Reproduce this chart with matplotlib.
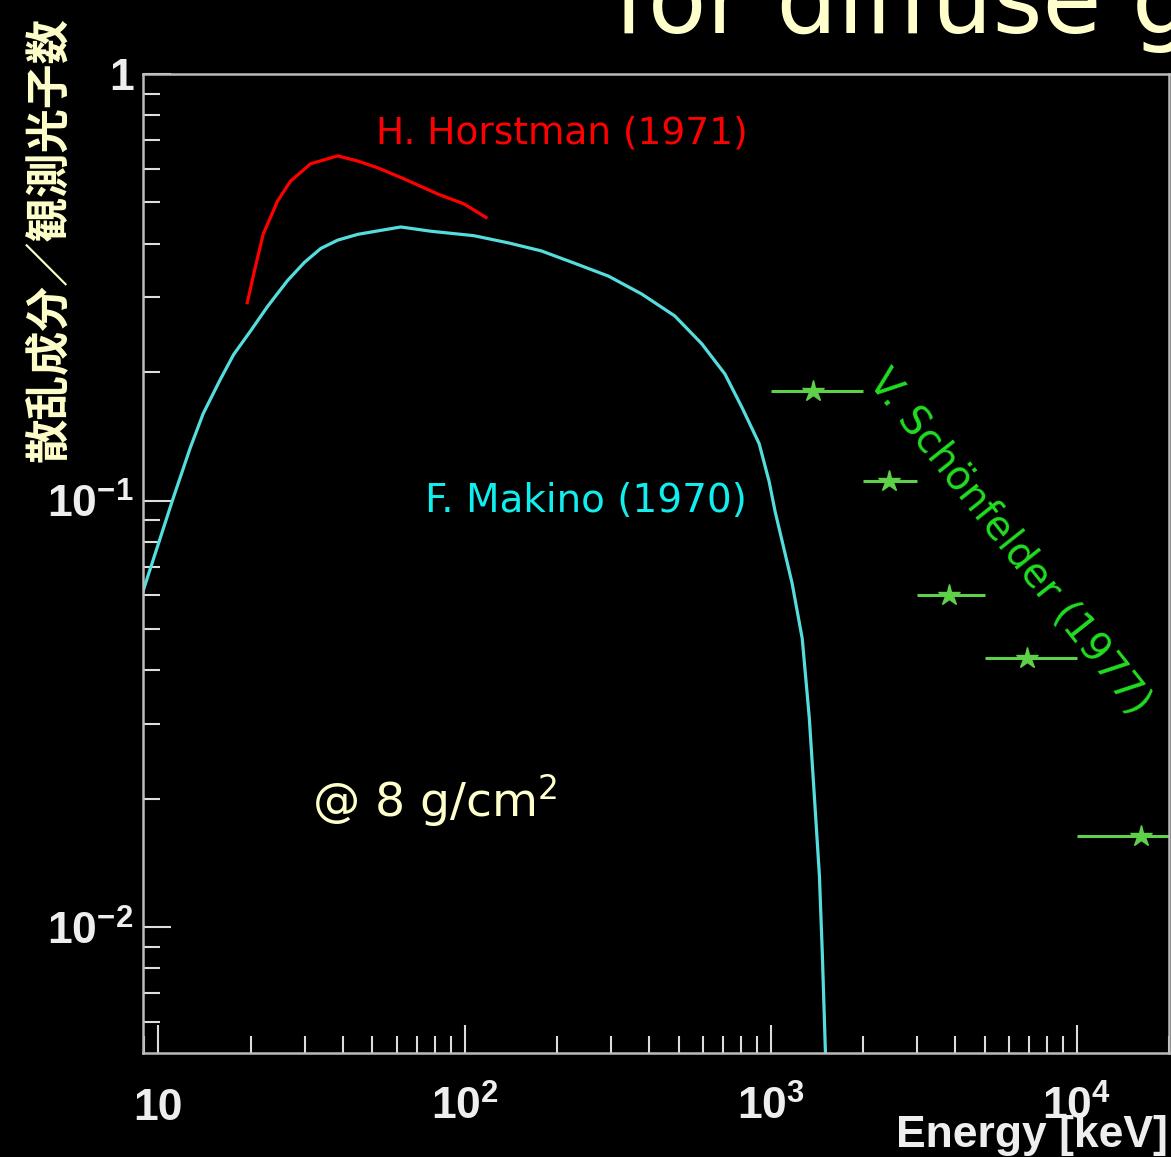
import numpy as np
import matplotlib.pyplot as plt
from matplotlib.ticker import LogLocator, NullFormatter

plt.rcParams['mathtext.fontset'] = 'custom'
plt.rcParams['mathtext.rm'] = 'Liberation Sans:bold'
plt.rcParams['mathtext.bf'] = 'Liberation Sans:bold'
plt.rcParams['mathtext.it'] = 'Liberation Sans:bold'

# F. Makino (1970)
makino_e = [8.5, 9.03, 9.9, 11.1, 12.7, 14.0, 15.9, 17.6, 20.0, 22.7, 26.4, 30.0,
            33.9, 38.5, 44.8, 61.9, 77.7, 107, 139, 178, 229, 295, 379, 486, 596,
            709, 807, 917, 988, 1035, 1175, 1268, 1337, 1389, 1443, 1475, 1510, 1530]
makino_v = [0.055, 0.0633, 0.0776, 0.100, 0.133, 0.160, 0.192, 0.220, 0.250, 0.285,
            0.328, 0.362, 0.390, 0.408, 0.421, 0.438, 0.428, 0.418, 0.402, 0.385,
            0.360, 0.336, 0.305, 0.271, 0.233, 0.198, 0.165, 0.136, 0.111, 0.094,
            0.064, 0.0475, 0.0310, 0.0203, 0.0132, 0.00865, 0.00507, 0.004]

# H. Horstman (1971)
horst_e = [19.5, 20.7, 22.0, 24.5, 27.0, 31.4, 38.5, 44.8, 52.0, 63.4, 81.9, 99.6, 117.5]
horst_v = [0.291, 0.352, 0.422, 0.504, 0.561, 0.616, 0.643, 0.625, 0.603, 0.568,
           0.523, 0.496, 0.461]

# V. Schoenfelder (1977)
sch_e = [1380, 2440, 3830, 6890, 16200]
sch_v = [0.181, 0.111, 0.060, 0.0428, 0.0164]
sch_lo = [1000, 2000, 3000, 5000, 10000]
sch_hi = [2000, 3000, 5000, 10000, 30000]

cream = '#ffffcc'
fig = plt.figure(figsize=(11.71, 11.57), dpi=100, facecolor='black')
ax = fig.add_axes([0.1225, 0.0899, 0.8757, 0.8461], facecolor='black')

ax.plot(makino_e, makino_v, color='#55dddd', lw=2.3)
ax.plot(horst_e, horst_v, color='#ff0000', lw=2.3)

xerr = [np.array(sch_e) - np.array(sch_lo), np.array(sch_hi) - np.array(sch_e)]
ax.errorbar(sch_e, sch_v, xerr=xerr, fmt='*', color='#5fd04a', ms=16,
            elinewidth=2.2, capsize=0)

ax.set_xscale('log')
ax.set_yscale('log')
ax.set_xlim(8.93, 2.0e4)
ax.set_ylim(0.00507, 1.0)

ax.set_xticks([10, 100, 1000, 10000], ['10', '$10^{2}$', '$10^{3}$', '$10^{4}$'])
ax.set_yticks([0.01, 0.1, 1], ['$10^{-2}$', '$10^{-1}$', '1'])
ax.xaxis.set_minor_locator(LogLocator(base=10, subs=np.arange(2, 10)))
ax.yaxis.set_minor_locator(LogLocator(base=10, subs=np.arange(2, 10)))
ax.xaxis.set_minor_formatter(NullFormatter())
ax.yaxis.set_minor_formatter(NullFormatter())

ax.tick_params(which='both', direction='in', colors='#dddddd', top=False, right=False)
ax.tick_params(which='major', length=20, width=1.5, labelsize=32)
ax.tick_params(which='minor', length=12, width=1.5)
ax.tick_params(axis='x', pad=48)
ax.tick_params(axis='y', pad=7)
for t in ax.get_xticklabels() + ax.get_yticklabels():
    t.set_fontfamily('Liberation Sans')
    t.set_fontweight('bold')
    t.set_color('#eeeeee')
plt.setp(ax.get_xticklabels(), va='baseline')
for s in ax.spines.values():
    s.set_color('#bbbbbb')
    s.set_linewidth(1.8)

ax.text(208, 0.724, 'H. Horstman (1971)', color='#ff0000', fontsize=27,
        ha='center', va='center')
ax.text(250, 0.1, 'F. Makino (1970)', color='#11eeee', fontsize=28,
        ha='center', va='center')
ax.text(80, 0.0198, '@ 8 g/cm$^{\\mathregular{2}}$', color=cream, fontsize=34,
        ha='center', va='center')
ax.text(6000, 0.0800, 'V. Schönfelder (1977)', color='#22dd22', fontsize=28.5,
        rotation=-51.5, rotation_mode='anchor', ha='center', va='center')

fig.text(50 / 1171, 1 - 240 / 1157, '散乱成分／観測光子数', rotation=90,
         color=cream, fontsize=32, fontweight='bold',
         family=['Noto Sans CJK JP', 'DejaVu Sans'], ha='center', va='center')
fig.text(1168 / 1171, 1 - 1147 / 1157, 'Energy [keV]', color='#eeeeee',
         fontsize=32, fontweight='bold', family='Liberation Sans',
         ha='right', va='baseline')
fig.text(614 / 1171, 1 - 33 / 1157, 'for diffuse g', color=cream, fontsize=69,
         ha='left', va='baseline')

fig.savefig('out.png', dpi=100, facecolor='black')
